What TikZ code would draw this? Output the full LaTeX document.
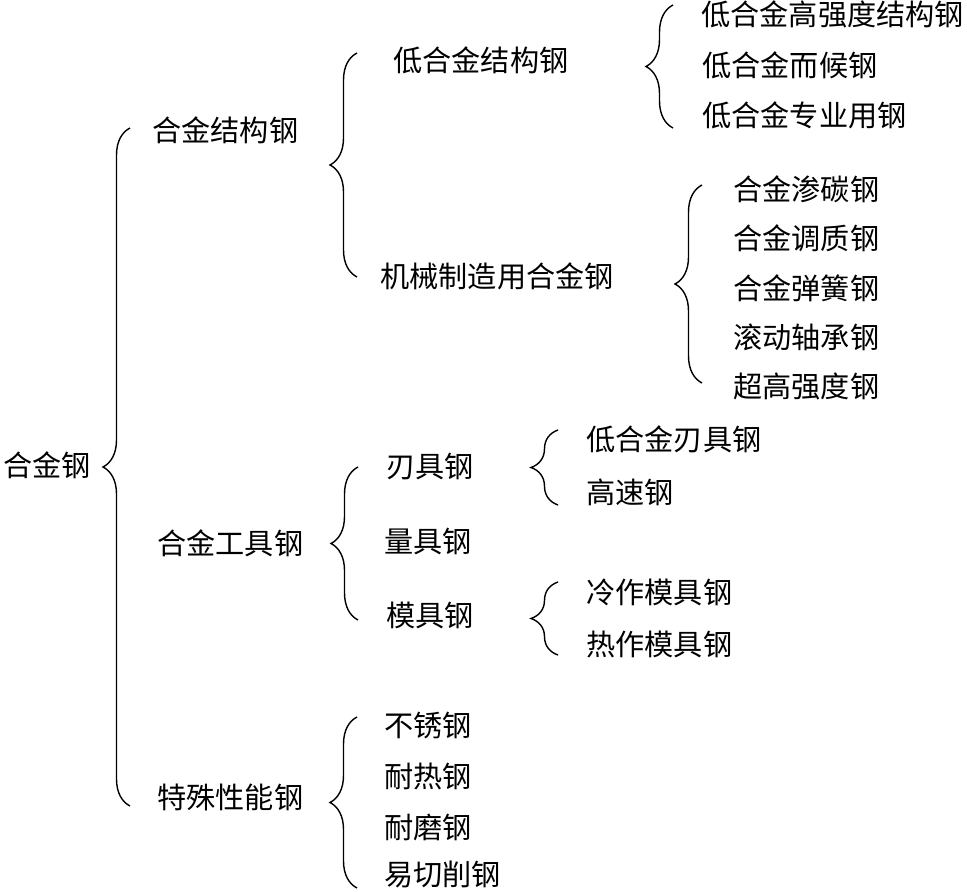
\documentclass[tikz,border=0pt]{standalone}
\usepackage{fontspec}
\newfontfamily\cjk{Noto Sans CJK SC}
\usetikzlibrary{decorations.pathreplacing}

\tikzset{
  item/.style={anchor=west, inner sep=0pt, text height=0.76em, text depth=0.18em,
    yshift=-0.7mm, font=\cjk\fontsize{16.6pt}{20pt}\selectfont},
  kuohao/.style={line width=0.8pt, decorate, decoration={brace, amplitude=5.4mm}}
}

\begin{document}
\begin{tikzpicture}[x=0.2mm, y=-0.2mm]
  \useasboundingbox (0,0) rectangle (967,892);

  \node[item] (root) at (3,468) {合金钢};

  \node[item] (jg) at (152,133) {合金结构钢};
  \node[item] (gj) at (157,546) {合金工具钢};
  \node[item] (ts) at (157,800) {特殊性能钢};

  \node[item] (dj)  at (393,63)  {低合金结构钢};
  \node[item] (jx)  at (380,279) {机械制造用合金钢};

  \node[item] (dj1) at (701,17)  {低合金高强度结构钢};
  \node[item] (dj2) at (702,68)  {低合金而候钢};
  \node[item] (dj3) at (702,118) {低合金专业用钢};

  \node[item] (jx1) at (733,192) {合金渗碳钢};
  \node[item] (jx2) at (733,241) {合金调质钢};
  \node[item] (jx3) at (733,291) {合金弹簧钢};
  \node[item] (jx4) at (733,340) {滚动轴承钢};
  \node[item] (jx5) at (733,389) {超高强度钢};

  \node[item] (rj) at (386,469) {刃具钢};
  \node[item] (lj) at (384,544) {量具钢};
  \node[item] (mj) at (386,618) {模具钢};

  \node[item] (rj1) at (586,442) {低合金刃具钢};
  \node[item] (rj2) at (586,495) {高速钢};
  \node[item] (mj1) at (586,595) {冷作模具钢};
  \node[item] (mj2) at (586,647) {热作模具钢};

  \node[item] (ts1) at (384,728) {不锈钢};
  \node[item] (ts2) at (384,779) {耐热钢};
  \node[item] (ts3) at (384,830) {耐磨钢};
  \node[item] (ts4) at (384,877) {易切削钢};

  \draw[kuohao] (130,806) -- (130,128);
  \draw[kuohao] (357,277) -- (357,53);
  \draw[kuohao] (673,128) -- (673,5);
  \draw[kuohao] (702,383) -- (702,185);
  \draw[kuohao] (358,620) -- (358,467);
  \draw[kuohao] (558,505) -- (558,430);
  \draw[kuohao] (558,655) -- (558,582);
  \draw[kuohao] (357,888) -- (357,717);
\end{tikzpicture}
\end{document}
